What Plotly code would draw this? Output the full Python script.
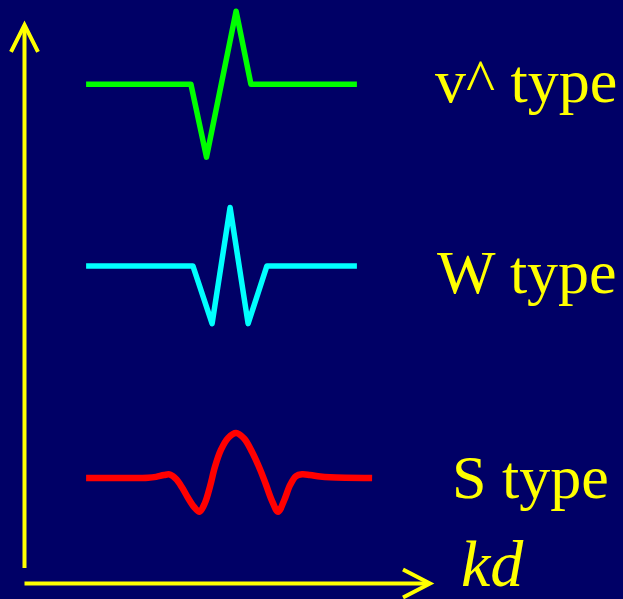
import plotly.graph_objects as go

# Pulse shapes along kd (amplitude in relative units, 0 = resting level)
v_kd = [1.54, 4.16, 4.55, 5.29, 5.66, 8.31]
v_amp = [0.0, 0.0, -1.0, 1.0, 0.0, 0.0]

w_kd = [1.54, 4.21, 4.69, 5.14, 5.59, 6.06, 8.31]
w_amp = [0.0, 0.0, -0.79, 0.80, -0.79, 0.0, 0.0]

s_kd = [1.54, 2.89, 3.09, 3.29, 3.49, 3.64, 3.79, 3.94, 4.09, 4.24,
        4.375, 4.51, 4.64, 4.76, 4.91, 5.09, 5.29, 5.49, 5.69, 5.89,
        6.04, 6.19, 6.34, 6.49, 6.64, 6.79, 6.94, 7.14, 7.39, 7.64, 8.69]
s_amp = [0.0, 0.0, 0.003, 0.016, 0.041, 0.048, -0.014, -0.13, -0.274, -0.397,
         -0.462, -0.342, -0.11, 0.151, 0.384, 0.548, 0.616, 0.541, 0.356, 0.116,
         -0.096, -0.315, -0.462, -0.308, -0.096, 0.027, 0.051, 0.041, 0.021, 0.011, 0.0]

labels = ["v^ type", "W type", "S type"]
axis_label = "kd"

# layout constants: vertical stacking of the three pulses and label placement
offsets = [6.84, 4.35, 1.445]
label_x = [10.20, 10.27, 10.64]
label_y = [6.884, 4.267, 1.459]

BG = "#000066"
YELLOW = "#FFFF00"
FONT = "Liberation Serif"

# 1 kd unit = 40 px, 1 amplitude unit = 73 px
X_RANGE = [-0.6125, 14.9625]
Y_RANGE = [-0.2123, 7.993]

fig = go.Figure()

series = [
    (v_kd, v_amp, "#00FF00", 5.5, "linear"),
    (w_kd, w_amp, "#00FFFF", 5.5, "linear"),
    (s_kd, s_amp, "#FF0000", 6.5, "spline"),
]
for (kd, amp, color, width, shape), off in zip(series, offsets):
    fig.add_trace(go.Scatter(
        x=kd, y=[a + off for a in amp], mode="lines",
        line=dict(color=color, width=width, shape=shape, smoothing=1.0),
        hoverinfo="skip", showlegend=False,
    ))

# axes drawn as yellow arrows with open chevron heads
ax_line = dict(color=YELLOW, width=4)
shapes = [
    dict(type="line", x0=0, y0=0.212, x1=0, y1=7.64, line=ax_line),
    dict(type="path", path="M -0.3375 7.281 L 0 7.651 L 0.3375 7.281", line=ax_line),
    dict(type="line", x0=0, y0=0, x1=10.12, y1=0, line=ax_line),
    dict(type="path", path="M 9.4625 0.192 L 10.1375 0 L 9.4625 -0.192", line=ax_line),
]
for s in shapes:
    s.update(xref="x", yref="y", layer="above")

annotations = []
for text, x, y in zip(labels, label_x, label_y):
    annotations.append(dict(
        x=x, y=y, xref="x", yref="y", text=text, showarrow=False,
        xanchor="left", yanchor="middle",
        font=dict(family=FONT, size=62, color=YELLOW),
    ))
annotations.append(dict(
    x=10.86, y=0.27, xref="x", yref="y", text=f"<i>{axis_label}</i>",
    showarrow=False, xanchor="left", yanchor="middle",
    font=dict(family=FONT, size=66, color=YELLOW),
))

fig.update_layout(
    width=623, height=599,
    margin=dict(l=0, r=0, t=0, b=0),
    paper_bgcolor=BG, plot_bgcolor=BG,
    xaxis=dict(range=X_RANGE, visible=False, fixedrange=True),
    yaxis=dict(range=Y_RANGE, visible=False, fixedrange=True),
    shapes=shapes, annotations=annotations,
)

fig.write_html(
    "out.html",
    config={"displayModeBar": False, "staticPlot": True},
    post_script="document.querySelectorAll('.scatterlayer path.js-line')"
                ".forEach(function(p){p.style.strokeLinejoin='round';});",
)
